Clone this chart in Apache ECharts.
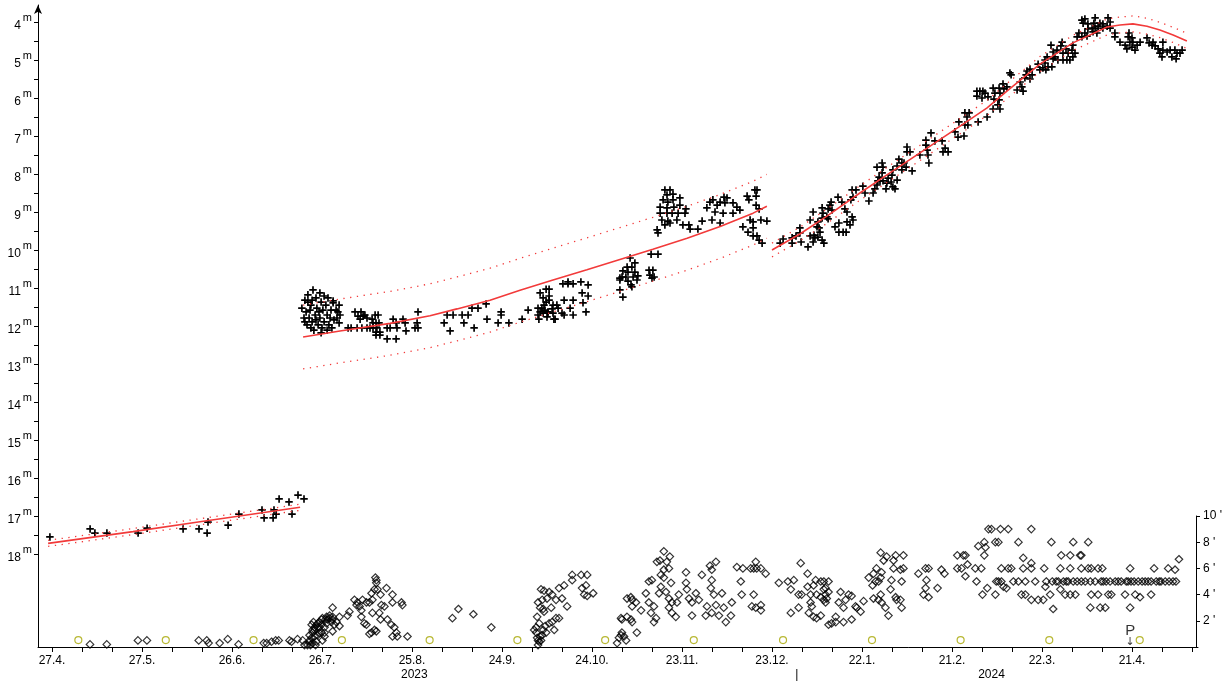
<!DOCTYPE html>
<html>
<head>
<meta charset="utf-8">
<title>12P/Pons-Brooks 2023-2024</title>
<script src="https://cdn.jsdelivr.net/npm/echarts@6/dist/echarts.min.js"></script>
<style>
  html, body { margin: 0; padding: 0; background: #fff; }
  #chart { width: 1225px; height: 681px; }
</style>
</head>
<body>
<div id="chart"></div>
<script>
// Day numbers count from 27.4.2023 (day 0).
const DAY_MIN = -4.667;
const DAY_MAX = 382;

// Date tick labels, one every 30 days
const TICK_DAYS = [0, 30, 60, 90, 120, 150, 180, 210, 240, 270, 300, 330, 360];
const TICK_LABELS = ['27.4.', '27.5.', '26.6.', '26.7.', '25.8.', '24.9.', '24.10.', '23.11.', '23.12.', '22.1.', '21.2.', '22.3.', '21.4.'];
const MINOR_TICK_DAYS = [0,10,20,30,40,50,60,70,80,90,100,110,120,130,140,150,160,170,180,190,200,210,220,230,240,250,260,270,280,290,300,310,320,330,340,350,360,370,380];

// Year row under the dates
const YEAR_DAYS = [121, 248.7, 313.7];
const YEAR_LABELS = ['2023', '|', '2024'];

// Magnitude and coma-diameter tick values
const MAG_LABELS = [4,5,6,7,8,9,10,11,12,13,14,15,16,17,18];
const MAG_TICKS = [4,4.5,5,5.5,6,6.5,7,7.5,8,8.5,9,9.5,10,10.5,11,11.5,12,12.5,13,13.5,14,14.5,15,15.5,16,16.5,17,17.5,18];
const COMA_LABELS = [2, 4, 6, 8, 10];

// Total magnitude estimates [day, mag]
const MAG_OBS = [
  [-0.7,17.55],[12.7,17.34],[14.3,17.45],[18.3,17.45],[28.7,17.45],[31.7,17.32],[43.7,17.34],[49,17.34],[52,17.16],[51.7,17.45],
  [58.7,17.24],[62.3,16.95],[70,16.84],[70.7,17.05],[73.7,17.05],[74,16.84],[74.7,16.95],[75.7,16.55],[79,16.63],[80,16.95],[82,16.45],[84,16.55],
  [84.3,11.32],[85.3,11.18],[86.3,11.45],[87,11.05],[88,11.26],[89.3,11.13],[89.7,11.37],[90.3,11.58],[84.7,11.63],[85.7,11.79],
  [86.7,11.89],[87.7,11.71],[88.7,11.97],[89.3,11.79],[90.7,11.89],[91.7,11.71],[92.3,11.97],[93,11.58],[94,11.84],[95,11.79],
  [84,11.79],[85,11.97],[86,11.58],[87.3,12.11],[88.3,11.53],[90,12.05],[91.3,11.45],[92,11.26],[93.7,11.39],[94.7,11.58],
  [83.3,11.53],[89,11.63],[90.7,11.21],[92.7,11.79],[86.7,11.32],[85.3,11.37],[88,11.84],[95.3,11.63],[93.3,12.05],[84.3,11.89],
  [89.7,12.18],[91.7,12.11],[86.3,12.05],[95.7,11.45],[93.7,11.34],[96,11.71],[95.7,11.92],
  [101,11.63],[103,11.63],[103.7,11.74],[104.3,11.71],[105,11.79],[102,11.74],[102.7,11.82],[98.7,12.05],[99.7,12.05],[101.7,12.05],
  [103.3,12.05],[105,12.05],[106,12.05],[106.7,11.82],[107,11.92],[107.7,11.71],[108.7,11.71],[108,11.92],[109,11.92],[107,12.05],
  [108.3,12.05],[108,12.16],[109.3,12.16],[108,12.24],[109.3,12.24],[111.7,12.05],[112.7,12.05],[113.7,11.82],[114.7,11.92],[115,12.05],
  [111.7,12.34],[114.7,12.34],[117,11.82],[117.7,11.92],[118,12.13],[121,12.05],[122,12.05],[121.7,11.92],[122,11.63],
  [130.7,11.92],[131.7,11.71],[133.7,11.71],[132.7,12.13],[136.7,11.71],[138.7,11.71],[137.3,11.92],[140,11.53],[142,11.53],[140.7,12.05],
  [144.7,11.42],[145,11.82],[149.7,11.63],[149.7,11.71],[148.7,11.92],[152.3,11.92],[156.7,11.82],[158.7,11.58],
  [162.7,11.13],[164.7,11.03],[165.7,11.03],[165.7,11.21],[163.7,11.26],[164.7,11.37],[165.7,11.32],[167,11.45],[168.3,11.45],[162,11.53],
  [163.3,11.53],[164.3,11.58],[165.3,11.63],[162,11.71],[163.7,11.66],[165.3,11.66],[167,11.66],[168.7,11.53],[162.3,11.82],[165,11.76],
  [167.3,11.82],[162.7,11.63],[164,11.45],[166.7,11.55],[170,11.66],[170.7,11.32],[173.7,11.32],[170.3,10.89],[172,10.89],[173.7,10.89],
  [172,10.84],[176.3,10.84],[178.7,10.92],[176.7,11.13],[178.7,11.21],[177,11.39],[178,11.63],[172.7,11.53],[170.7,11.71],[173.7,11.71],[167.7,11.82],
  [189.3,10.74],[192.7,10.21],[194.3,10.34],[191.7,10.45],[193.3,10.45],[190.3,10.55],[192,10.58],[194.3,10.58],[190,10.71],[191.3,10.71],
  [193.7,10.71],[195.3,10.68],[189.3,10.79],[192,10.82],[195,10.79],[193,10.92],[193.3,10.97],[189.3,11.05],[190.3,11.24],
  [199,10.53],[200.3,10.53],[199.3,10.66],[200,10.74],[200.7,10.71],[199.7,10.11],[202,10.11],
  [204.3,8.42],[206,8.42],[207,8.53],[205,8.55],[203.7,8.68],[205.3,8.74],[207,8.68],[209.3,8.63],[202.7,8.87],[205,8.89],
  [207.3,8.87],[209.3,8.82],[202.7,9.03],[205,9.03],[206.7,9.03],[208.7,9.03],[211,9.03],[203.3,9.21],[205.3,9.24],[208.3,9.21],
  [211.3,8.92],[204.3,9.34],[206,9.29],[201.7,9.47],[202,9.55],[210.3,9.34],[212.3,9.34],[212.7,9.45],[215.3,9.45],[216.7,9.24],
  [219.3,8.74],[220.3,8.68],[221.7,8.82],[222.7,8.74],[224.3,8.76],[225,8.63],[227,8.76],[228.3,8.87],[218.3,8.89],[221,9.0],
  [223.7,9.03],[227,9.03],[229.3,8.95],[220,9.21],[222.7,9.29],[224,8.61],
  [231.7,8.58],[232.3,8.68],[234.3,8.42],[235,8.42],[234.7,8.58],[234.7,8.82],[235.7,8.92],[232.7,9.21],[233.7,9.26],[236.3,9.21],
  [238.3,9.24],[230.3,9.39],[232,9.53],[233.7,9.42],[233.7,9.63],[235,9.63],[235.7,9.74],[236.7,9.82],
  [242.7,9.82],[243.7,9.71],[246.7,9.68],[246.7,9.82],[248,9.63],[249.3,9.42],[249.3,9.55],[249.7,9.79],[252,9.92],[252.7,9.21],
  [253.7,9.0],[253.7,9.79],[254.3,9.68],[255.3,9.66],[254,9.61],[255,9.39],[255.7,9.42],[256,9.53],[255.3,9.26],[256.7,9.16],
  [257,9.03],[256.7,8.89],[252.7,9.63],[256.7,9.74],[257.3,9.82],[258.3,9.13],[258.7,9.18],[259.3,8.82],[259.7,8.74],[260,8.95],
  [258.7,8.92],[261,9.39],[262.3,9.29],[262.3,9.53],[264.7,9.53],[263.7,9.53],[262,8.61],[263.3,8.74],[264.3,8.92],[265,9.0],
  [265,9.26],[266,9.34],[266.7,9.13],[267,9.21],[266.7,8.42],[268,8.42],[266.3,8.68],[267,8.61],[270.3,8.32],[271,8.5],
  [272.3,8.71],[274.3,8.39],[273.7,8.5],[275,8.29],[275.3,8.18],[275.7,8.08],[276.7,7.97],[276.7,7.71],[275,7.82],[277,7.82],
  [276,8.18],[277,8.18],[278,8.39],[278.3,8.24],[278.7,8.11],[279.7,8.21],[280.3,8.34],[281,8.39],[280,8.03],[280.3,7.89],
  [281.7,7.79],[282.3,7.61],[283.3,7.89],[283.3,7.71],[284,7.71],[284.7,7.82],[281.7,8.16],[285,7.29],[285,7.42],[286,7.42],
  [286.7,7.92],[289.3,7.5],[291.3,7.11],[291.3,7.24],[291.7,7.37],[292,7.5],[292.3,7.71],[293,6.92],[294.3,7.13],[296.7,7.13],
  [297,7.42],[297.7,7.32],[298.7,7.42],[301,6.89],[302.3,6.63],[304,7.0],[304.3,6.71],[305.3,6.71],[304.3,6.39],[305.7,6.39],
  [305,6.5],[308.7,6.63],[311.7,6.5],[302,7.03],[308.3,5.82],[308.3,5.95],[309.3,5.82],[310,6.0],[310.3,5.82],[311,5.87],
  [312,5.97],[313.7,5.74],[314.3,5.87],[315.7,5.74],[316,5.87],[317.3,5.76],[318.3,5.71],[317,5.63],[314,6.03],[315.7,6.05],
  [315.3,6.18],[316,6.29],[313.7,6.29],[319.3,5.34],[319.7,5.39],[321.7,5.79],[323.7,5.82],[323.3,5.71],[322.7,5.58],[324.7,5.39],
  [325,5.29],[326,5.24],[326.7,5.39],[326,5.5],[324.3,5.47],[328.7,5.11],[329.3,5.26],[331,5.0],[331.7,4.92],[332,5.18],
  [333.3,5.18],[330.3,5.21],[331,5.08],[331.3,5.26],[333,4.61],[333.7,4.79],[334.3,4.92],[335,4.74],[335.3,5.0],[333.7,4.97],
  [336.7,4.53],[336.3,4.63],[337,4.82],[338,4.71],[338.7,4.82],[339.3,5.0],[338.3,5.0],[340,4.74],[340.3,4.61],[341,4.82],
  [340.3,4.92],[337,5.0],[341.7,4.39],[342.3,4.29],[343.3,4.39],[344.3,4.29],[345,4.37],[345.3,4.18],[346.7,4.16],[347,4.26],
  [348.3,4.29],[343.3,3.95],[344.3,3.92],[343.7,4.03],[345.3,4.05],[347.7,3.89],[347.3,4.03],[348.7,4.11],[349.3,4.03],[350.3,4.05],
  [351.7,4.11],[352,3.89],[352.7,4.0],[352.7,4.16],[350.3,4.16],[347.7,4.16],
  [354.3,4.29],[354.3,4.39],[356,4.53],[357.7,4.61],[358.3,4.71],[358.7,4.39],[359,4.29],[360,4.42],[359.3,4.53],[360.3,4.53],
  [361.7,4.61],[362.7,4.53],[361,4.74],[360,4.66],[365,4.42],[365.7,4.55],[366.7,4.61],[367,4.53],[367.7,4.63],[368.7,4.71],
  [369.3,4.82],[370.3,4.53],[370.3,4.74],[371.7,4.79],[372.7,4.74],[373.3,4.92],[374.3,4.74],[375,4.82],[374.7,4.97],[376,4.82],
  [376.7,4.74],[370,4.92]
];

// Fitted light curves [day, mag] and their half-widths
const CURVE_1 = [[-1.3,17.72],[27,17.41],[49.3,17.15],[82.7,16.77]];
const BAND_1 = [0.08, 0.08, 0.08, 0.08];
const CURVE_2 = [[83.7,12.29],[96,12.13],[112.7,11.93],[126,11.73],[135,11.55],[146,11.32],[156,11.06],[167,10.79],
  [178.3,10.52],[189.3,10.25],[200.3,9.98],[211.7,9.69],[222.7,9.38],[233.7,9.03],[238.3,8.85]];
const BAND_2 = [0.84,0.84,0.84,0.84,0.84,0.84,0.84,0.84,0.84,0.84,0.84,0.84,0.84,0.84,0.84];
const CURVE_3 = [[240,10.0],[249.3,9.58],[258.3,9.11],[269.3,8.5],[280.3,7.92],[291.7,7.32],[302.7,6.74],[311.7,6.26],
  [318.3,5.82],[329.3,5.11],[340.3,4.55],[351.7,4.13],[356,4.08],[360.3,4.05],[365,4.11],[369.3,4.21],[373.7,4.34],[378.3,4.5]];
const BAND_3 = [0.18,0.18,0.19,0.19,0.2,0.2,0.2,0.2,0.2,0.2,0.2,0.21,0.21,0.21,0.21,0.2,0.2,0.2];

// Coma diameter estimates [day, arcmin]
const COMA_OBS = [
  [12.7,0.2],[18.3,0.2],[28.7,0.5],[31.7,0.5],[49,0.5],[51.7,0.5],[52.3,0.3],[56,0.3],[58.7,0.6],[62.3,0.2],
  [70.7,0.3],[71.7,0.3],[73.3,0.4],[74.7,0.5],[75.7,0.5],[79.3,0.5],[80,0.4],[82,0.6],[83.7,0.5],
  [85.3,0.15],[86,0.4],[86.7,0.7],[86,0.9],[87,1.1],[87,1.3],[87.7,1.5],[88.3,1.7],[88.7,1.8],[89.3,1.9],
  [90,2.1],[90.3,2.2],[91.7,2.3],[92.7,2.2],[93.7,2.1],[95,1.9],[92.7,2.4],[93.7,2.3],[91,1.5],[90.3,0.5],
  [88.3,0.4],[87,0.3],[87.7,0.8],[89.3,1.1],[88.7,1.5],[90,1.7],[91.7,1.8],[93.3,1.9],[94.3,1.7],[93.7,1.2],
  [91,0.8],[93.7,3.0],[96,2.3],[96,1.6],[91,1.1],[92,2.1],[86.7,1.7],[87.3,1.9],[86,0.5],[87.7,1.3],
  [89.3,1.5],[88.7,0.9],[91.3,2.1],[90,1.1],[84.3,0.15],[86.3,0.15],[88,0.15],
  [99.3,2.7],[98.7,2.4],[101,3.6],[102,3.4],[102.7,3.1],[103.3,2.8],[101.7,3.2],[103.7,3.6],[105,3.4],[106,3.4],
  [107,3.6],[106.7,4.1],[107.7,4.4],[108.7,4.4],[108,5.3],[108.3,5.1],[108.3,4.9],[111.7,4.5],[109.7,4.0],[113.7,4.0],
  [113.7,3.4],[116.7,3.4],[117,3.2],[110,3.2],[111,3.1],[107,2.6],[103.3,2.3],[104.3,1.8],[105,1.7],[106,1.0],
  [106.7,1.1],[107.7,1.3],[108.3,1.2],[109.7,2.1],[112,2.1],[113.3,1.7],[114.3,1.5],[115,1.1],[113.7,0.8],[115.3,0.8],
  [118.7,0.8],[109.3,2.6],
  [133.7,2.2],[135.7,2.9],[140.7,2.5],[146.7,1.5],
  [161,1.3],[161.7,1.1],[162,0.7],[162.7,0.4],[162.3,0.15],[163.3,0.5],[163.7,0.9],[165,1.1],[166,1.8],[167,1.9],
  [168.3,2.2],[169.3,2.2],[167.7,1.3],[162.7,1.8],[162,2.3],[163,3.0],[164,2.9],[164.3,2.7],[163.7,3.6],[165.3,3.7],
  [166,4.2],[167,4.0],[168.3,3.6],[169.3,4.5],[171,4.7],[172,3.1],[170.3,3.7],[173.7,5.5],[173.7,5.1],[176.7,5.5],
  [178.7,5.5],[177,4.5],[178.3,4.7],[177.7,4.0],[178.7,3.9],[180.7,4.1],[162.3,3.4],[164.3,4.3],[163.3,4.4],[166.7,3.0],
  [161.7,1.5],[162.3,0.5],[163,0.8],[164,1.3],[164.7,1.6],
  [188.7,0.3],[189.3,0.7],[190,0.9],[190.3,1.1],[191,0.8],[191.7,0.5],[190.3,2.1],[190,2.2],[192,2.3],[193.7,1.9],
  [193.3,2.1],[195.3,1.1],[192,3.7],[193.3,3.8],[193.7,3.6],[195,3.4],[193.7,3.1],[196.7,2.8],[198.3,4.1],[199.3,5.0],
  [200.3,5.1],[199.3,3.4],[200,2.6],[201,3.1],[201.7,2.2],[201,1.9],[202.7,4.1],[203.3,4.6],[203.3,5.5],[204.3,5.3],
  [204.3,5.9],[206,6.0],[206.7,4.9],[205,4.2],[206,3.7],[206,3.0],[207,2.6],[208.3,2.3],[207,3.4],[208.7,3.4],
  [209.3,4.0],[211.7,5.7],[211.7,4.9],[212,4.4],[212.7,3.7],[213.7,3.4],[213.7,2.4],[215,4.1],[216,3.6],[217,5.5],
  [218.7,3.1],[220,4.5],[220.3,5.1],[220.3,5.9],[221,4.0],[221.7,3.2],[222.7,2.4],[223.7,4.1],[224.3,3.0],[225,1.9],
  [226.7,2.4],[227,3.4],[228.7,6.1],[230,5.0],[230.3,4.0],[230.7,6.0],[220.3,2.6],[218.3,2.4],[202,6.5],[205.3,6.5],
  [219.7,6.2],[221.7,6.5],[204.3,7.3],[206.3,6.9],[203,6.6],
  [233.3,6.0],[234.3,6.0],[235.3,6.0],[236.7,6.0],[235,6.5],[238.3,5.6],[234.3,4.0],[233.7,3.1],[235,3.0],[236.7,3.2],
  [236.7,2.8],[242.7,4.9],[245.7,5.0],[246.7,4.4],[247.7,5.1],[246.7,2.6],[249.3,3.0],[250,6.4],[249.3,4.0],[250.3,4.0],
  [252.3,5.6],[252.3,4.6],[253.7,3.1],[255,5.1],[256.7,5.0],[257.7,5.0],[259.3,5.0],[258.3,4.5],[257.7,3.6],[258.3,3.4],
  [256.7,3.8],[255.3,4.0],[253.3,3.4],[252.7,2.6],[254.3,2.3],[255.3,2.2],[256.7,2.4],[259.3,1.7],[260.3,1.8],[261.7,2.3],
  [261.7,1.9],[262.7,3.4],[264.3,3.0],[265,3.6],[266,4.0],[267,3.9],[268.3,3.1],[268.7,3.0],[270,2.7],[271,3.5],
  [267,2.1],[264.3,1.9],[263.3,4.2],[253.3,4.0],[254.3,4.7],[259.3,4.2],[258.7,3.7],[257.7,4.4],[258.3,4.0],
  [272.7,5.3],[274,4.7],[275,5.0],[274.3,5.6],[275.3,6.0],[276.7,7.2],[277.7,6.6],[278.7,6.9],[277,5.7],[276.7,5.3],
  [276,5.0],[274.3,3.7],[276,3.6],[277,3.4],[278.3,3.0],[279.3,2.4],[280,4.4],[281,6.6],[281.7,7.0],[284.3,7.0],
  [281,6.0],[283.3,5.9],[284.3,6.0],[280.3,5.1],[283.7,5.0],[281.7,3.8],[282,3.6],[283.3,3.6],[283.7,3.0],[276.7,4.0],
  [289.3,5.6],[291.7,6.0],[292.7,6.0],[292,5.1],[291.7,4.5],[291,4.0],[292.7,3.8],[295.7,4.5],[297,5.9],[298,5.6],
  [302.3,6.0],[303.7,6.0],[302.3,7.0],[304.3,7.0],[305,7.0],[305,5.4],[305.7,6.3],[308.7,5.0],[309.3,7.7],[311.3,8.0],
  [311.7,7.6],[311.3,7.0],[310.7,4.0],[312.3,4.5],[308.3,6.0],[310.3,6.0],[312.7,9.0],[313.7,9.0],[315,8.0],[316,8.0],
  [316.7,9.0],[319.3,9.0],[322.7,8.0],[327,9.0],[315,4.0],[315.3,5.0],[316,5.0],[317,5.0],[317.7,4.6],[318.7,4.5],
  [317,6.0],[319.3,6.0],[320.3,6.0],
  [321,5.0],[322.7,5.0],[323.7,4.0],[325,4.0],[324.3,6.0],[324.3,6.8],[327,6.0],[327,6.4],[325,5.0],[327,3.6],
  [328.3,5.0],[329.3,3.6],[331,3.6],[331.3,6.0],[331.7,4.6],[332,5.0],[333.3,4.0],[333.7,8.0],[334.3,2.9],[334,5.0],
  [335.3,5.0],[336.7,4.4],[337,7.0],[336.7,6.0],[337.7,5.0],[338.3,4.0],[339.3,5.0],[340,6.0],[341,8.0],[340,4.0],
  [341.7,4.0],[343.3,7.0],[343.7,6.0],[343.7,5.0],[345,5.0],[346,8.0],[346,6.0],[346.7,3.0],[347,4.0],[348.3,5.0],
  [349.3,6.0],[349.3,4.0],[350,3.0],[350.3,5.0],[351.7,3.0],[352,5.0],[352.7,4.0],[353.7,4.0],[355,5.0],[357,5.0],
  [358.3,4.0],[358.7,5.0],[360,6.0],[360,3.0],[360.3,5.0],[361.7,4.0],[362.7,5.0],[363.3,3.8],[365,5.0],[367,4.0],
  [367,5.0],[368,6.0],[368.7,5.0],[370.3,5.0],[372.7,6.0],[374.3,5.0],[375,5.9],[376.3,6.7],[347,6.0],[350.7,6.0],
  [340,7.0],[343.7,7.0],[336,5.0],[338.7,5.0],[341,5.0],[342.3,5.0],[346.7,5.0],[351,5.0],[353.3,5.0],[356,5.0],
  [359.3,5.0],[361.3,5.0],[364,5.0],[366,5.0],[369.7,5.0],[371.7,5.0],[373,5.0],[375.3,5.0]
];

// Full moon dates
const FULL_MOON_DAYS = [8.8, 38, 67.3, 96.8, 126.1, 155.4, 184.7, 214.3, 244.1, 273.8, 303.4, 333, 363.2];
const MOON_LEVEL = 0.53;

// Perihelion 21.4.2024
const PERIHELION_DAY = 360;

const FONT = 'Liberation Sans, Arial, sans-serif';
const PLUS = 'path://M2.75,0H4.35V2.75H7.1V4.35H4.35V7.1H2.75V4.35H0V2.75H2.75Z';
const RED = '#f23a3a';

function bandLine(curve, band, sign) {
  return curve.map((p, i) => [p[0], p[1] + sign * band[i]]);
}

function solidCurve(data) {
  return {
    type: 'line', xAxisIndex: 0, yAxisIndex: 0, data: data,
    showSymbol: false, symbol: 'none', smooth: false, z: 4,
    lineStyle: { color: RED, width: 1.6 }
  };
}
function dottedCurve(data) {
  return {
    type: 'line', xAxisIndex: 0, yAxisIndex: 0, data: data,
    showSymbol: false, symbol: 'none', smooth: false, z: 4,
    lineStyle: { color: RED, width: 1.3, type: [1.3, 5.5] }
  };
}

const chart = echarts.init(document.getElementById('chart'), null, { renderer: 'canvas' });

const xCommon = {
  type: 'value', min: DAY_MIN, max: DAY_MAX,
  splitLine: { show: false }
};

chart.setOption({
  animation: false,
  backgroundColor: '#fff',
  grid: [
    { left: 38, right: 27, top: 5, bottom: 34 },
    { left: 38, right: 27, top: 516, bottom: 34 }
  ],
  xAxis: [
    Object.assign({}, xCommon, {
      gridIndex: 0, position: 'bottom',
      axisLine: { show: true, onZero: false, lineStyle: { color: '#000', width: 1 } },
      axisTick: { show: true, length: 5, lineStyle: { color: '#000' }, customValues: MINOR_TICK_DAYS },
      axisLabel: {
        show: true, margin: 8, color: '#000', fontFamily: FONT, fontSize: 12,
        customValues: TICK_DAYS,
        formatter: (v) => TICK_LABELS[TICK_DAYS.indexOf(Math.round(v))] || ''
      }
    }),
    Object.assign({}, xCommon, {
      gridIndex: 1, position: 'bottom',
      axisLine: { show: false, onZero: false },
      axisTick: { show: false },
      axisLabel: {
        show: true, margin: 22, color: '#000', fontFamily: FONT, fontSize: 12,
        customValues: YEAR_DAYS,
        formatter: (v) => {
          const i = YEAR_DAYS.findIndex(d => Math.abs(d - v) < 0.01);
          return i >= 0 ? YEAR_LABELS[i] : '';
        }
      }
    })
  ],
  yAxis: [
    {
      type: 'value', gridIndex: 0, position: 'left', inverse: true,
      min: 3.553, max: 20.447,
      splitLine: { show: false },
      axisLine: { show: true, onZero: false, symbol: ['none', 'arrow'], symbolSize: [6, 9], lineStyle: { color: '#000', width: 1 } },
      axisTick: { show: true, length: 4, lineStyle: { color: '#000' }, customValues: MAG_TICKS },
      axisLabel: {
        show: true, margin: 6, customValues: MAG_LABELS,
        formatter: (v) => '{n|' + v + '}{s|m}',
        rich: {
          n: { fontFamily: FONT, fontSize: 12, color: '#000', verticalAlign: 'bottom' },
          s: { fontFamily: FONT, fontSize: 11, color: '#000', padding: [0, 0, 9, 2] }
        }
      }
    },
    {
      type: 'value', gridIndex: 1, position: 'right',
      min: 0, max: 10,
      splitLine: { show: false },
      axisLine: { show: true, onZero: false, lineStyle: { color: '#000', width: 1 } },
      axisTick: { show: true, length: 4, lineStyle: { color: '#000' }, customValues: COMA_LABELS },
      axisLabel: {
        show: true, margin: 7, color: '#000', fontFamily: FONT, fontSize: 12,
        customValues: COMA_LABELS,
        formatter: (v) => v + " '"
      }
    }
  ],
  series: [
    {
      type: 'scatter', xAxisIndex: 0, yAxisIndex: 0, data: MAG_OBS,
      symbol: PLUS, symbolSize: 7.5, z: 3,
      itemStyle: { color: '#000', opacity: 1 }
    },
    solidCurve(CURVE_1), dottedCurve(bandLine(CURVE_1, BAND_1, -1)), dottedCurve(bandLine(CURVE_1, BAND_1, 1)),
    solidCurve(CURVE_2), dottedCurve(bandLine(CURVE_2, BAND_2, -1)), dottedCurve(bandLine(CURVE_2, BAND_2, 1)),
    solidCurve(CURVE_3), dottedCurve(bandLine(CURVE_3, BAND_3, -1)), dottedCurve(bandLine(CURVE_3, BAND_3, 1)),
    {
      type: 'scatter', xAxisIndex: 1, yAxisIndex: 1, data: COMA_OBS,
      symbol: 'diamond', symbolSize: [7.5, 7.5], z: 3,
      itemStyle: { color: 'rgba(0,0,0,0)', borderColor: '#000', borderWidth: 1.2 }
    },
    {
      type: 'scatter', xAxisIndex: 1, yAxisIndex: 1,
      data: FULL_MOON_DAYS.map(d => [d, MOON_LEVEL]),
      symbol: 'circle', symbolSize: 7, z: 3,
      itemStyle: { color: 'rgba(0,0,0,0)', borderColor: '#a6a600', borderWidth: 1.2 }
    },
    {
      type: 'scatter', xAxisIndex: 1, yAxisIndex: 1,
      data: [[PERIHELION_DAY, 0]],
      symbol: 'circle', symbolSize: 1, z: 5, silent: true,
      itemStyle: { color: 'rgba(0,0,0,0)' },
      label: {
        show: true, position: 'top', distance: 0,
        formatter: '{p|P}\n{a|↓}',
        rich: {
          p: { fontFamily: FONT, fontSize: 15, color: '#000', lineHeight: 13, align: 'center' },
          a: { fontFamily: 'DejaVu Sans', fontSize: 11, color: '#000', lineHeight: 9, align: 'center' }
        }
      }
    }
  ]
});
</script>
</body>
</html>
